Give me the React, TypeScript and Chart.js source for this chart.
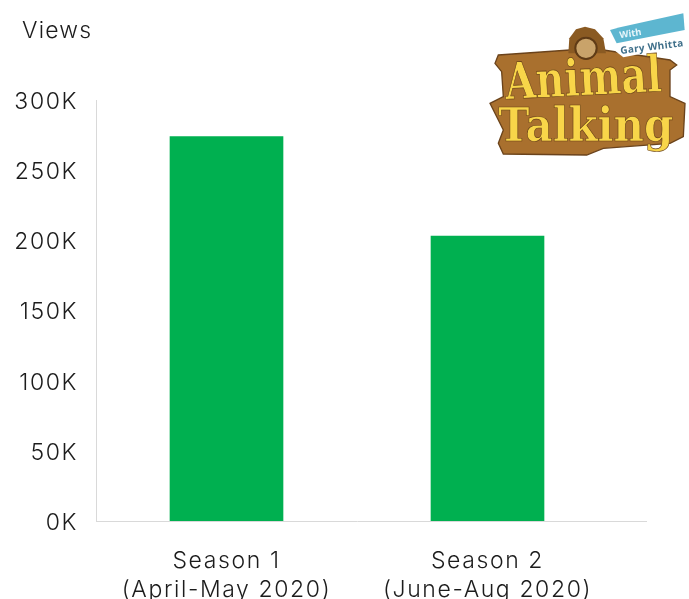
import React, { useEffect, useRef } from "react";
import { Chart, registerables } from "chart.js";

Chart.register(...registerables);

const categories = [["Season 1", "(April-May 2020)"], ["Season 2", "(June-Aug 2020)"]];
const views = [274000, 203000];
const yTicks = [0, 50000, 100000, 150000, 200000, 250000, 300000];
const yTitle = "Views";
const FONT = "Inter, 'Open Sans', sans-serif";
const INK = "#1c1c1c";
const AXIS = "#d9d9d9";

const extras = {
  id: "extras",
  beforeDraw(chart: any) {
    chart.ctx.letterSpacing = "1.6px";
  },
  afterDraw(chart: any) {
    const { ctx, scales } = chart;
    ctx.save();
    ctx.strokeStyle = AXIS;
    ctx.lineWidth = 1;
    ctx.beginPath();
    ctx.moveTo(scales.x.right, scales.y.bottom + 0.5);
    ctx.lineTo(647, scales.y.bottom + 0.5);
    ctx.stroke();
    ctx.fillStyle = INK;
    ctx.font = `300 23px ${FONT}`;
    ctx.textBaseline = "middle";
    ctx.letterSpacing = "1.2px";
    ctx.fillText(yTitle, 22, 31);
    ctx.restore();
  },
};

function Logo() {
  return (
    <svg
      viewBox="0 0 657 510"
      width={219}
      height={170}
      style={{ position: "absolute", left: 470, top: 0 }}
    >
      <defs>
        <filter id="soft"><feGaussianBlur stdDeviation="1.8" /></filter>
      </defs>
      <g filter="url(#soft)">
        <polygon
          fill="#a9702f"
          stroke="#6b431a"
          strokeWidth="4"
          points="85,165 300,150 400,150 600,180 620,195 600,210 600,290 645,310 640,410 600,430 400,445 350,465 100,462 85,430 100,390 60,310 100,290 95,215 75,190"
        />
        <polygon
          fill="#8a5a24"
          points="345,80 375,88 400,115 408,160 295,160 298,115 318,88"
        />
        <circle cx="348" cy="145" r="32" fill="#c9a36a" stroke="#5e3a14" strokeWidth="6" />
        <polygon
          fill="#ffffff"
          points="420,90 450,82 640,40 650,135 460,172 432,150"
        />
        <polygon fill="#5db6d0" points="420,90 450,82 640,40 644,90 440,130" />
        <text x="450" y="115" fontSize="28" fontWeight="700" fill="#e8f6fa" fontFamily="Open Sans" transform="rotate(-9 450 115)">With</text>
        <text x="452" y="162" fontSize="30" fontWeight="700" fill="#3f6f8a" fontFamily="Open Sans" transform="rotate(-7 452 162)" textLength="190">Gary Whitta</text>
        <text x="108" y="298" fontSize="152" fontWeight="700" fill="#f8d548" stroke="#6b431a" strokeWidth="2" fontFamily="DejaVu Serif" textLength="470" lengthAdjust="spacingAndGlyphs" transform="rotate(-3 108 298)">Animal</text>
        <text x="85" y="422" fontSize="140" fontWeight="700" fill="#f8d548" stroke="#6b431a" strokeWidth="2" fontFamily="DejaVu Serif" textLength="525" lengthAdjust="spacingAndGlyphs">Talking</text>
      </g>
    </svg>
  );
}

export default function App() {
  const ref = useRef<HTMLCanvasElement>(null);
  useEffect(() => {
    const chart = new Chart(ref.current!, {
      type: "bar",
      data: {
        labels: categories,
        datasets: [{ data: views, backgroundColor: "#00b050", barThickness: 113 }],
      },
      options: {
        animation: false,
        responsive: false,
        layout: { padding: { top: 100, left: 0, right: 71, bottom: 0 } },
        plugins: { legend: { display: false }, tooltip: { enabled: false } },
        scales: {
          x: {
            grid: { display: false, drawTicks: false },
            border: { color: AXIS, width: 1 },
            afterFit: (s: any) => { s.height = 78; },
            ticks: {
              color: INK,
              font: { family: FONT, size: 23, weight: "300", lineHeight: 1.27 },
              padding: 25,
              maxRotation: 0,
            },
          },
          y: {
            min: 0,
            max: 300000,
            grid: { display: false, drawTicks: false },
            border: { color: AXIS, width: 1 },
            afterFit: (s: any) => { s.width = 96; },
            afterBuildTicks: (s: any) => { s.ticks = yTicks.map((value) => ({ value })); },
            ticks: {
              color: INK,
              font: { family: FONT, size: 23, weight: "300" },
              padding: 18,
              labelOffset: 2,
              callback: (v: any) => `${Number(v) / 1000}K`,
            },
          },
        },
      },
      plugins: [extras],
    });
    return () => chart.destroy();
  }, []);
  return (
    <div style={{ position: "fixed", left: 0, top: 0, width: 689, height: 599, overflow: "hidden", background: "#fff" }}>
      <canvas ref={ref} width={689} height={599} style={{ display: "block" }} />
      <Logo />
    </div>
  );
}
